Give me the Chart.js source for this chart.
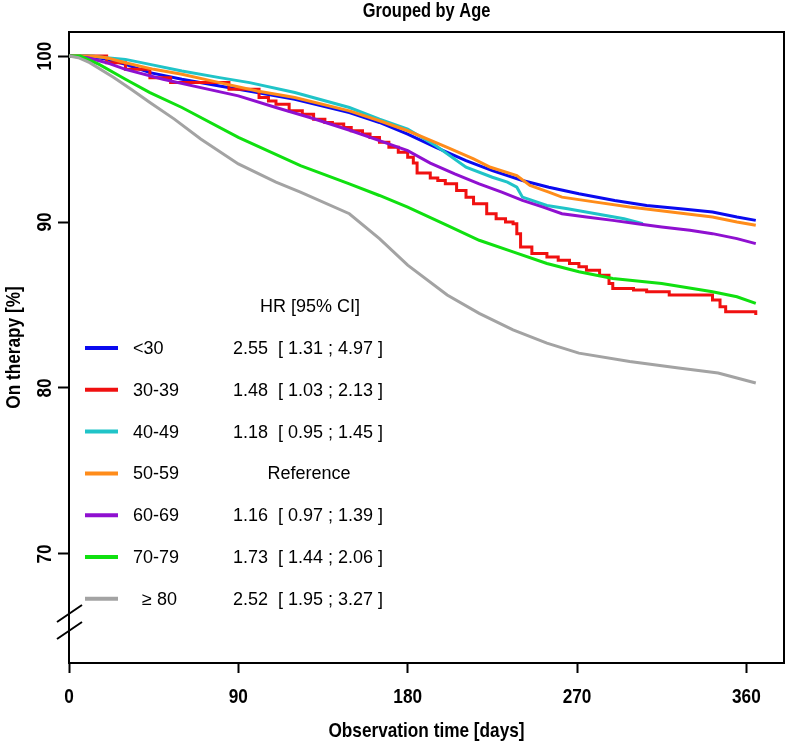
<!DOCTYPE html>
<html>
<head>
<meta charset="utf-8">
<script src="https://cdn.jsdelivr.net/npm/chart.js@4.4.1/dist/chart.umd.min.js"></script>
<style>
html,body{margin:0;padding:0;background:#fff}
#wrap{width:787px;height:743px}
</style>
</head>
<body>
<div id="wrap"><canvas id="km" width="787" height="743"></canvas></div>
<script>
// text
const chartTitle = "Grouped by Age"
const xTitle = "Observation time [days]"
const yTitle = "On therapy [%]"
const hrHeader = "HR [95% CI]"

// axes
const xTicks = [0, 90, 180, 270, 360]
const yTicks = [70, 80, 90, 100]

// groups
const groups = ["<30", "30-39", "40-49", "50-59", "60-69", "70-79", "\u2265 80"]
const hrText = [
"2.55  [ 1.31 ; 4.97 ]",
"1.48  [ 1.03 ; 2.13 ]",
"1.18  [ 0.95 ; 1.45 ]",
"Reference",
"1.16  [ 0.97 ; 1.39 ]",
"1.73  [ 1.44 ; 2.06 ]",
"2.52  [ 1.95 ; 3.27 ]"
]
const colors = ["#0a0aef", "#f01010", "#20c4c8", "#ff8c1a", "#8f10d0", "#10e010", "#a3a3a3"]

// survival curves (days, % on therapy)
const daysLt30 = [0,10,20,30,43,60,80,100,120,149,165,180,195,211,225,241,255,271,290,307,325,342,355,365]
const survLt30 = [100,100,99.8,99.5,99.0,98.6,98.2,97.8,97.4,96.6,96.0,95.3,94.5,93.7,93.1,92.5,92.1,91.7,91.3,91.0,90.8,90.6,90.3,90.1]

const days30 = [0,12,20,30,43,54,70,85,101,106,110,117,124,130,136,140,146,150,156,160,165,170,175,180,183,185,192,196,200,206,211,215,222,227,232,236,238,240,246,254,260,266,271,275,282,287,289,300,307,319,337,342,346,349,365]
const surv30 = [100,100,99.6,99.2,98.7,98.4,98.4,98.0,97.5,97.3,97.1,96.7,96.5,96.2,96.0,95.9,95.7,95.5,95.3,95.1,94.8,94.5,94.2,93.9,93.55,92.95,92.65,92.5,92.3,91.9,91.5,91.1,90.5,90.2,90.0,89.9,89.3,88.5,88.1,87.9,87.7,87.5,87.3,87.1,86.8,86.3,86.0,85.9,85.8,85.6,85.6,85.3,84.9,84.6,84.4]

const days40 = [0,12,20,30,43,60,80,96,120,149,165,180,195,211,225,233,238,241,254,265,280,295,305]
const surv40 = [100,100,99.9,99.8,99.5,99.1,98.7,98.4,97.8,96.9,96.2,95.6,94.6,93.3,92.7,92.4,92.1,91.5,91.0,90.8,90.5,90.2,89.9]

const days50 = [0,12,20,30,45,60,80,100,120,149,165,180,201,215,224,238,245,255,262,280,298,320,342,355,365]
const surv50 = [100,100,99.9,99.6,99.2,98.9,98.4,97.9,97.5,96.7,96.1,95.5,94.5,93.8,93.3,92.8,92.2,91.8,91.5,91.2,90.9,90.6,90.3,90.0,89.8]

const days60 = [0,10,20,30,50,70,90,110,128,150,165,180,192,205,218,230,241,252,262,275,289,302,315,330,342,355,365]
const surv60 = [100,99.9,99.6,99.2,98.6,98.1,97.6,96.9,96.3,95.5,94.9,94.3,93.55,92.9,92.3,91.8,91.3,90.9,90.5,90.3,90.1,89.9,89.7,89.5,89.3,89.0,88.7]

const days70 = [0,6,16,30,43,60,90,123,149,165,180,201,218,236,254,271,289,315,342,355,365]
const surv70 = [100,100,99.5,98.6,97.8,96.9,95.1,93.4,92.3,91.6,90.9,89.8,88.9,88.2,87.5,87.0,86.6,86.3,85.8,85.5,85.1]

const days80 = [0,5,11,24,33,43,56,70,90,110,123,149,165,180,201,218,236,254,271,298,324,345,355,365]
const surv80 = [100,99.9,99.6,98.7,98.0,97.2,96.2,95.0,93.5,92.4,91.8,90.5,89.0,87.4,85.6,84.5,83.5,82.7,82.1,81.6,81.2,80.9,80.6,80.3]

const allDays = [daysLt30, days30, days40, days50, days60, days70, days80]
const allSurv = [survLt30, surv30, surv40, surv50, surv60, surv70, surv80]

const plain = '"Liberation Sans", Arial, sans-serif'

const datasets = groups.map((g, i) => ({
label: g,
data: allDays[i].map((d, k) => ({x: d, y: allSurv[i][k]})),
borderColor: colors[i],
borderWidth: 3,
pointRadius: 0,
fill: false,
tension: 0,
stepped: i === 1 ? 'before' : false,
order: groups.length - i
}))

// bold narrow look: Liberation Sans Bold squeezed horizontally
function narrowText(ctx, text, x, y, size, rot){
ctx.save()
ctx.translate(x, y)
if(rot) ctx.rotate(rot)
ctx.scale(0.82, 1)
ctx.font = "bold " + size + "px " + plain
ctx.textAlign = "center"
ctx.textBaseline = "middle"
ctx.fillText(text, 0, 0)
ctx.restore()
}

const decor = {
id: "decor",
afterDraw(chart){
const ctx = chart.ctx
const ca = chart.chartArea
const xs = chart.scales.x
const ys = chart.scales.y
ctx.save()

// frame top/right
ctx.strokeStyle = "#000"
ctx.lineWidth = 2
ctx.beginPath()
ctx.moveTo(ca.left, ca.top)
ctx.lineTo(ca.right, ca.top)
ctx.lineTo(ca.right, ca.bottom)
ctx.stroke()

// axis break
ctx.beginPath()
ctx.moveTo(57, 622); ctx.lineTo(82, 605)
ctx.moveTo(57, 639); ctx.lineTo(82, 622)
ctx.stroke()

ctx.fillStyle = "#000"
narrowText(ctx, chartTitle, (ca.left + ca.right) / 2, 11, 20)
narrowText(ctx, xTitle, (ca.left + ca.right) / 2, 731, 21)
narrowText(ctx, yTitle, 14, (ca.top + ca.bottom) / 2, 21, -Math.PI / 2)

xTicks.forEach(v => narrowText(ctx, String(v), xs.getPixelForValue(v), 697, 21))
yTicks.forEach(v => narrowText(ctx, String(v), 45, ys.getPixelForValue(v), 21, -Math.PI / 2))

// legend with hazard ratios
ctx.font = "18px " + plain
ctx.textBaseline = "middle"
ctx.textAlign = "center"
ctx.fillText(hrHeader, 310, 307)
groups.forEach((g, i) => {
const y = 348 + i * 41.8
ctx.strokeStyle = colors[i]
ctx.lineWidth = 4
ctx.beginPath()
ctx.moveTo(85, y)
ctx.lineTo(118, y)
ctx.stroke()
ctx.textAlign = "left"
ctx.fillText(g, i === 6 ? 142 : 133, y + 1)
if(hrText[i] === "Reference"){
ctx.textAlign = "center"
ctx.fillText(hrText[i], 309, y + 1)
} else {
ctx.fillText(hrText[i], 233, y + 1)
}
})

ctx.restore()
}
}

new Chart(document.getElementById("km"), {
type: "line",
data: { datasets: datasets },
options: {
responsive: false,
animation: false,
devicePixelRatio: 1,
layout: { padding: { left: 0, top: 32, right: 3, bottom: 0 } },
plugins: {
legend: { display: false },
title: { display: false },
tooltip: { enabled: false }
},
scales: {
x: {
type: "linear",
min: 0,
max: 380,
afterBuildTicks: s => { s.ticks = xTicks.map(v => ({value: v})) },
afterFit: s => { s.height = 80 },
grid: { drawOnChartArea: false, drawTicks: true, tickLength: 10, tickColor: "#000", tickWidth: 2 },
border: { display: true, color: "#000", width: 2 },
ticks: { display: false }
},
y: {
type: "linear",
min: 63.43,
max: 101.45,
afterBuildTicks: s => { s.ticks = yTicks.map(v => ({value: v})) },
afterFit: s => { s.width = 69 },
grid: { drawOnChartArea: false, drawTicks: true, tickLength: 11, tickColor: "#000", tickWidth: 2 },
border: { display: true, color: "#000", width: 2 },
ticks: { display: false }
}
}
},
plugins: [decor]
})
</script>
</body>
</html>
